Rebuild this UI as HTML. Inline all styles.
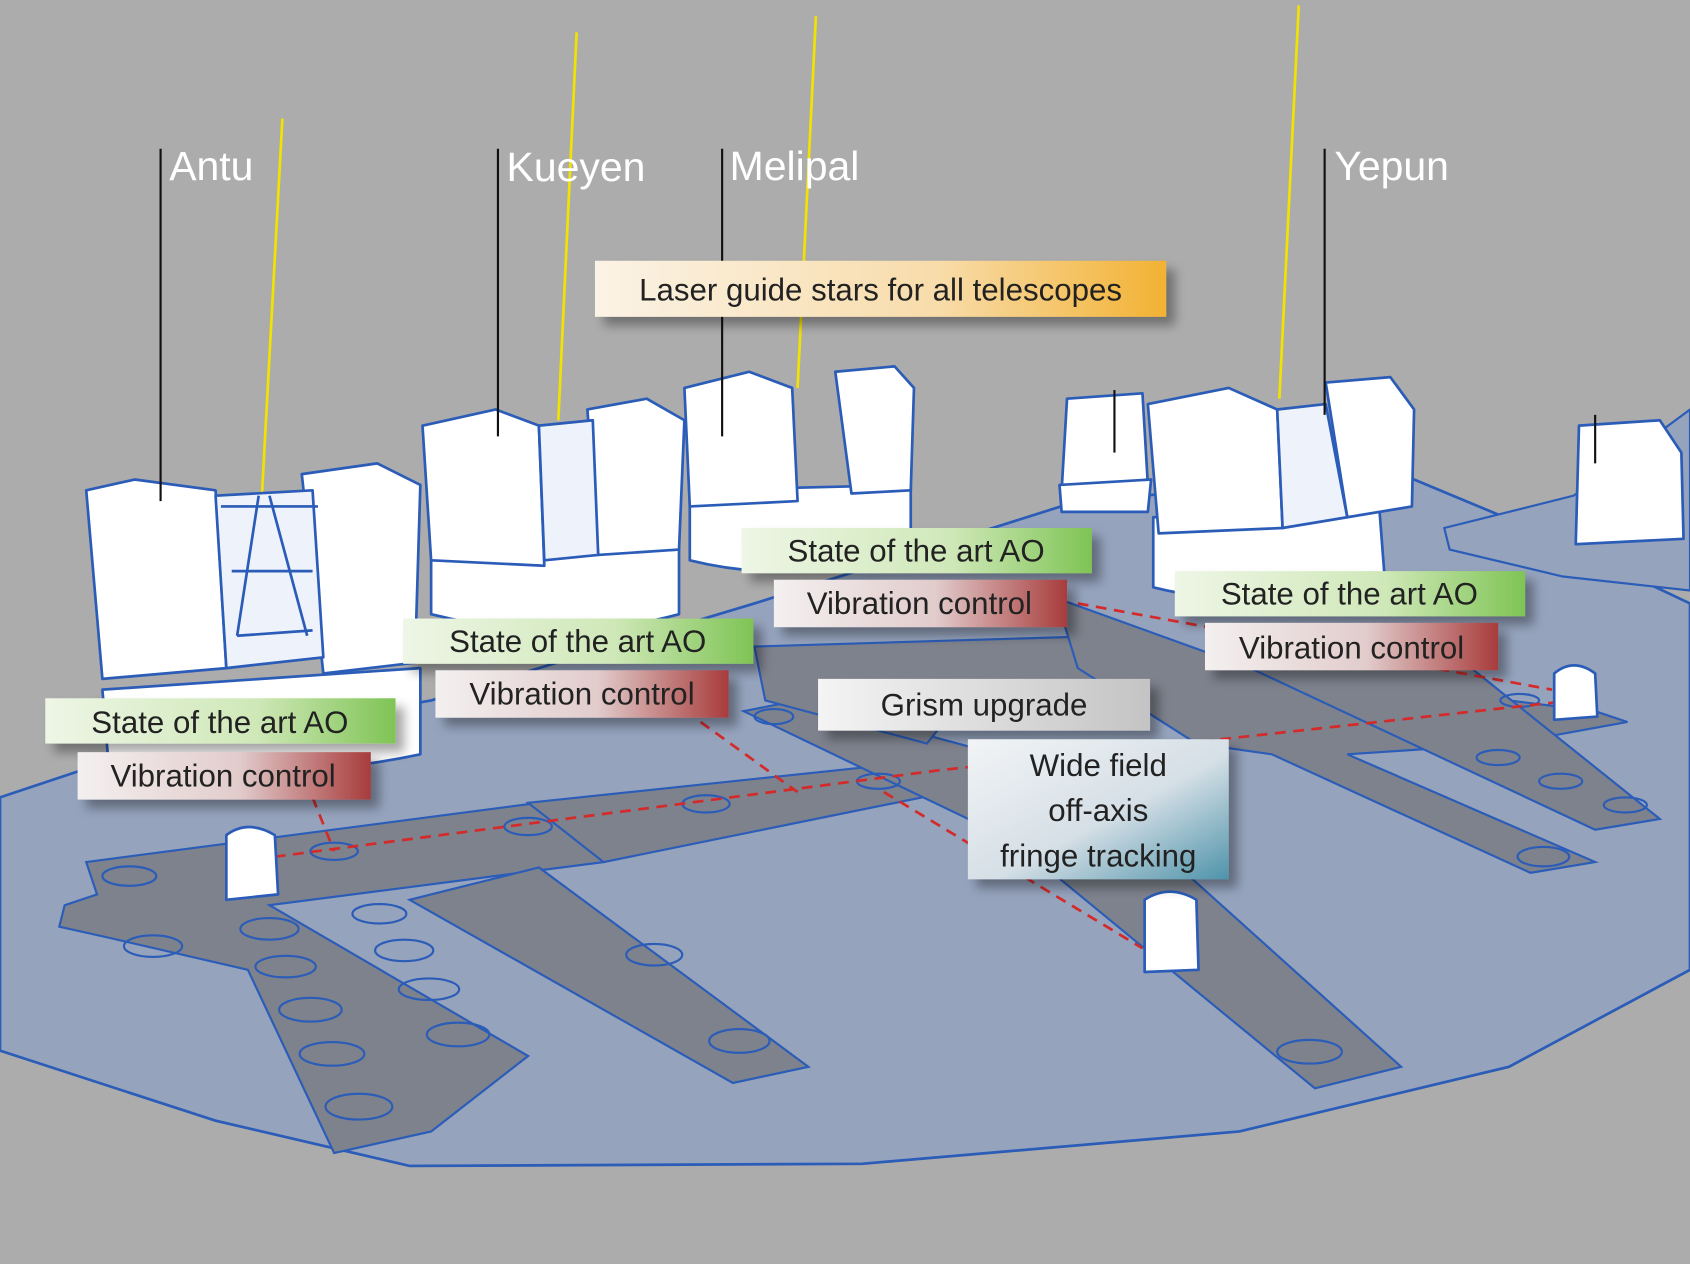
<!DOCTYPE html>
<html><head><meta charset="utf-8"><style>
html,body{margin:0;padding:0;background:#acacac;}
svg{display:block}
text{font-family:"Liberation Sans",sans-serif;}
</style></head><body>
<svg width="1690" height="1264" viewBox="0 0 1568 1173" preserveAspectRatio="none" xmlns="http://www.w3.org/2000/svg">
<defs>
<linearGradient id="gG" x1="0" x2="1"><stop offset="0" stop-color="#eef6e6"/><stop offset="0.6" stop-color="#cfe8b8"/><stop offset="1" stop-color="#7fc455"/></linearGradient>
<linearGradient id="gR" x1="0" x2="1"><stop offset="0" stop-color="#f4f0f0"/><stop offset="0.55" stop-color="#e2cccc"/><stop offset="1" stop-color="#a83c3c"/></linearGradient>
<linearGradient id="gO" x1="0" x2="1"><stop offset="0" stop-color="#fbf3e6"/><stop offset="0.6" stop-color="#f8dcaa"/><stop offset="1" stop-color="#f2b233"/></linearGradient>
<linearGradient id="gS" x1="0" x2="1"><stop offset="0" stop-color="#f4f4f4"/><stop offset="1" stop-color="#c4c4c4"/></linearGradient>
<linearGradient id="gB" x1="0" y1="0" x2="1" y2="1"><stop offset="0" stop-color="#f2f4f6"/><stop offset="0.55" stop-color="#d5dfe6"/><stop offset="1" stop-color="#4f93aa"/></linearGradient>
<filter id="sh" x="-10%" y="-20%" width="130%" height="160%"><feDropShadow dx="8" dy="8" stdDeviation="5" flood-color="#000" flood-opacity="0.35"/></filter>
</defs>
<rect width="1568" height="1173" fill="#acacac"/>
<!-- ground -->
<path d="M0 740 L120 700 L400 650 L700 560 L1000 465 L1300 440 L1420 490 L1568 560 L1568 900 L1400 990 L1150 1050 L800 1080 L380 1082 L200 1040 L0 975 Z" fill="#95a3bd" stroke="#2a5cb8" stroke-width="2.5"/>
<path d="M1568 380 L1460 460 L1340 490 L1345 510 L1450 535 L1568 548 Z" fill="#95a3bd" stroke="#2a5cb8" stroke-width="2"/>
<!-- trenches -->
<g fill="#7e828d" stroke="#2a5cb8" stroke-width="2">
<path d="M80 800 L500 745 L560 800 L250 840 L490 980 L400 1050 L310 1070 L230 900 L100 870 L55 860 L60 840 L90 830 Z"/>
<path d="M490 745 L870 705 L880 735 L560 800 Z"/>
<path d="M380 835 L500 805 L750 990 L680 1005 Z"/>
<path d="M690 660 L740 650 L1000 720 L1300 990 L1220 1010 L940 780 Z"/>
<path d="M700 600 L1030 590 L1030 630 L900 640 L860 690 L710 650 Z"/>
<path d="M980 555 L1160 620 L1480 660 L1510 670 L1400 690 L1250 700 L1480 800 L1420 810 L1180 700 L1110 690 L1000 620 Z"/>
<path d="M1160 620 L1340 600 L1540 760 L1480 770 Z"/>
</g>
<g fill="none" stroke="#2a5cb8" stroke-width="2">
<ellipse cx="120" cy="813" rx="25" ry="9"/><ellipse cx="250" cy="862" rx="27" ry="10"/><ellipse cx="352" cy="848" rx="25" ry="9"/>
<ellipse cx="142" cy="878" rx="27" ry="10"/><ellipse cx="265" cy="897" rx="28" ry="10"/><ellipse cx="375" cy="882" rx="27" ry="10"/>
<ellipse cx="288" cy="937" rx="29" ry="11"/><ellipse cx="398" cy="918" rx="28" ry="10"/><ellipse cx="308" cy="978" rx="30" ry="11"/>
<ellipse cx="425" cy="960" rx="29" ry="11"/><ellipse cx="333" cy="1027" rx="31" ry="12"/><ellipse cx="310" cy="790" rx="22" ry="8"/>
<ellipse cx="490" cy="767" rx="22" ry="8"/><ellipse cx="655" cy="746" rx="22" ry="8"/><ellipse cx="815" cy="725" rx="20" ry="7"/>
<ellipse cx="607" cy="886" rx="26" ry="10"/><ellipse cx="686" cy="966" rx="28" ry="11"/><ellipse cx="1215" cy="976" rx="30" ry="11"/>
<ellipse cx="1432" cy="795" rx="24" ry="9"/><ellipse cx="1390" cy="703" rx="20" ry="7"/><ellipse cx="1448" cy="725" rx="20" ry="7"/><ellipse cx="1508" cy="747" rx="20" ry="7"/>
<ellipse cx="718" cy="665" rx="18" ry="7"/><ellipse cx="1410" cy="650" rx="18" ry="6"/>
</g>
<!-- red dashed -->
<g stroke="#d42a2a" stroke-width="2.5" stroke-dasharray="10 7" fill="none">
<path d="M255 795 L870 715 L1460 650"/><path d="M290 740 L310 790"/><path d="M650 670 L740 735"/><path d="M820 735 L1060 880"/><path d="M1000 560 L1440 640"/>
</g>
<!-- laser beams -->
<g stroke="#f2e200" stroke-width="2.5"><line x1="262" y1="110" x2="243" y2="460"/><line x1="535" y1="30" x2="518" y2="390"/><line x1="757" y1="15" x2="740" y2="360"/><line x1="1205" y1="5" x2="1187" y2="370"/></g>
<!-- telescopes -->
<g fill="#fff" stroke="#2a5cb8" stroke-width="2.5" stroke-linejoin="round">
<path d="M95 640 L390 620 L390 700 Q250 730 100 700 Z"/>
<path d="M80 455 L125 445 L200 455 L210 620 L95 630 Z"/>
<path d="M280 440 L350 430 L390 450 L385 615 L300 625 Z"/>
<path d="M200 460 L290 455 L300 610 L210 620 Z" fill="#eef2fa"/>
<path d="M205 470 L295 470 M215 530 L290 530 M240 460 L220 590 M250 460 L285 590 M220 590 L290 585" fill="none"/>
<path d="M400 520 L630 510 L630 570 Q520 600 400 570 Z"/>
<path d="M392 395 L460 380 L500 395 L505 525 L400 520 Z"/>
<path d="M545 380 L600 370 L635 390 L630 510 L555 515 Z"/>
<path d="M500 395 L550 390 L555 515 L505 520 Z" fill="#eef2fa"/>
<path d="M640 455 L845 450 L845 510 Q740 545 640 520 Z"/>
<path d="M635 360 L695 345 L735 360 L740 465 L640 470 Z"/>
<path d="M775 345 L830 340 L848 360 L845 455 L790 458 Z"/>
<path d="M1070 480 L1280 475 L1285 540 Q1170 570 1070 545 Z"/>
<path d="M1065 375 L1140 360 L1185 380 L1190 490 L1075 495 Z"/>
<path d="M1230 355 L1290 350 L1312 380 L1310 470 L1250 480 Z"/>
<path d="M1185 380 L1230 375 L1250 480 L1190 490 Z" fill="#eef2fa"/>
<path d="M990 370 L1060 365 L1065 450 L985 455 Z"/><path d="M983 450 L1068 445 L1065 475 L985 475 Z"/>
<path d="M1465 395 L1540 390 L1560 420 L1562 500 L1462 505 Z"/>
<path d="M210 775 Q230 760 255 775 L258 830 L210 835 Z"/>
<path d="M1442 625 Q1460 610 1480 625 L1482 665 L1442 668 Z"/>
<path d="M1062 835 Q1085 820 1110 835 L1112 900 L1062 902 Z"/>
</g>
<!-- name lines -->
<g stroke="#111" stroke-width="2"><line x1="149" y1="138" x2="149" y2="465"/><line x1="462" y1="138" x2="462" y2="405"/><line x1="670" y1="138" x2="670" y2="405"/><line x1="1229" y1="138" x2="1229" y2="385"/><line x1="1034" y1="362" x2="1034" y2="420"/><line x1="1480" y1="385" x2="1480" y2="430"/></g>
<g fill="#fff" font-size="38"><text x="157" y="167">Antu</text><text x="470" y="168">Kueyen</text><text x="677" y="167">Melipal</text><text x="1238" y="167">Yepun</text></g>
<!-- labels -->
<g font-size="29" fill="#222" text-anchor="middle">
<rect x="552" y="242" width="530" height="52" fill="url(#gO)" filter="url(#sh)"/><text x="817" y="279">Laser guide stars for all telescopes</text>
<rect x="688" y="490" width="325" height="42" fill="url(#gG)" filter="url(#sh)"/><text x="850" y="521">State of the art AO</text>
<rect x="718" y="538" width="272" height="44" fill="url(#gR)" filter="url(#sh)"/><text x="853" y="570">Vibration control</text>
<rect x="1090" y="530" width="325" height="42" fill="url(#gG)" filter="url(#sh)"/><text x="1252" y="561">State of the art AO</text>
<rect x="1118" y="578" width="272" height="44" fill="url(#gR)" filter="url(#sh)"/><text x="1254" y="611">Vibration control</text>
<rect x="374" y="574" width="325" height="42" fill="url(#gG)" filter="url(#sh)"/><text x="536" y="605">State of the art AO</text>
<rect x="404" y="622" width="272" height="44" fill="url(#gR)" filter="url(#sh)"/><text x="540" y="654">Vibration control</text>
<rect x="42" y="648" width="325" height="42" fill="url(#gG)" filter="url(#sh)"/><text x="204" y="680">State of the art AO</text>
<rect x="72" y="698" width="272" height="44" fill="url(#gR)" filter="url(#sh)"/><text x="207" y="730">Vibration control</text>
<rect x="759" y="630" width="308" height="48" fill="url(#gS)" filter="url(#sh)"/><text x="913" y="664">Grism upgrade</text>
<rect x="898" y="686" width="242" height="130" fill="url(#gB)" filter="url(#sh)"/>
<text x="1019" y="720">Wide field</text><text x="1019" y="762">off-axis</text><text x="1019" y="804">fringe tracking</text>
</g>
</svg>
</body></html>
